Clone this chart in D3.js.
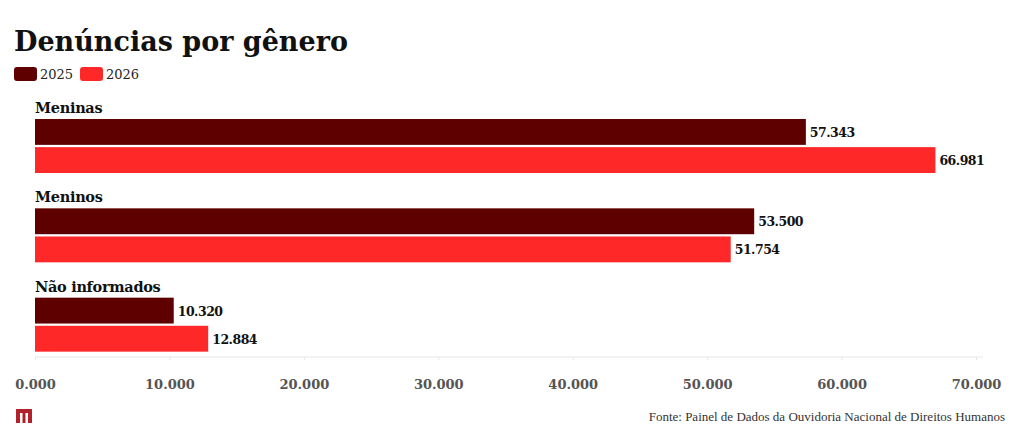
<!DOCTYPE html>
<html>
<head>
<meta charset="utf-8">
<script src="https://cdn.jsdelivr.net/npm/d3@7"></script>
<style>
  body { margin: 0; background: #fff; }
  text { font-family: "DejaVu Serif", serif; }
</style>
</head>
<body>
<div id="chart"></div>
<script>
// data
const categories = ["Meninas", "Meninos", "Não informados"];
const years = ["2025", "2026"];
const values2025 = [57343, 53500, 10320];
const values2026 = [66981, 51754, 12884];
const ticks = [0, 10000, 20000, 30000, 40000, 50000, 60000, 70000];
const colors = ["#5f0000", "#ff2828"];

const width = 1020, height = 444;
// brazilian style thousands: 12.884, 0.000 for zero tick
const fmtInt = d => d === 0 ? "0.000" : d3.format(",")(d).replace(/,/g, ".");

const svg = d3.select("#chart").append("svg")
  .attr("width", width).attr("height", height);

// title
svg.append("text").attr("x", 14).attr("y", 51)
  .attr("font-size", 27).attr("font-weight", 700).attr("fill", "#111")
  .text("Denúncias por gênero");

// legend
const legend = svg.append("g").attr("transform", "translate(14,67)");
const lx = [0, 66];
years.forEach((y, i) => {
  legend.append("rect").attr("x", lx[i]).attr("y", 0).attr("width", 23).attr("height", 14)
    .attr("rx", 3).attr("fill", colors[i]);
  legend.append("text").attr("x", lx[i] + 26).attr("y", 12)
    .attr("font-size", 13).attr("fill", "#222").text(y);
});

// scales
const x = d3.scaleLinear().domain([0, 70000]).range([35, 976]);
const groupY = d3.scaleBand().domain(categories).range([95, 363]);
const barY = d3.scaleBand().domain(years).range([24, 78]).paddingInner(0.08);

const groups = svg.selectAll("g.grp").data(categories).join("g")
  .attr("class", "grp")
  .attr("transform", d => `translate(0,${groupY(d)})`);

groups.append("text").attr("x", 35).attr("y", 18)
  .attr("font-size", 14.5).attr("font-weight", 700).attr("fill", "#111")
  .attr("letter-spacing", -0.3)
  .text(d => d);

const series = [values2025, values2026];
groups.each(function(c, ci) {
  const g = d3.select(this);
  years.forEach((yr, yi) => {
    const v = series[yi][ci];
    g.append("rect")
      .attr("x", x(0)).attr("y", barY(yr))
      .attr("width", x(v) - x(0)).attr("height", barY.bandwidth())
      .attr("fill", colors[yi]);
    g.append("text")
      .attr("x", x(v) + 4).attr("y", barY(yr) + barY.bandwidth() / 2 + 5)
      .attr("font-size", 12.5).attr("font-weight", 700).attr("fill", "#111")
      .attr("letter-spacing", -0.5)
      .text(fmtInt(v));
  });
});

// axis
const axis = svg.append("g").attr("transform", "translate(0,357)")
  .call(d3.axisBottom(x).tickValues(ticks).tickSize(3).tickFormat(fmtInt));
axis.select(".domain").attr("d", `M${x(0)},0H983`).attr("stroke", "#e6e6e6");
axis.selectAll(".tick line").attr("stroke", "#e6e6e6");
axis.selectAll(".tick text").attr("y", 32).attr("dy", 0)
  .attr("font-size", 13).attr("font-weight", 700).attr("fill", "#555")
  .style("font-family", "DejaVu Serif, serif");

// logo
svg.append("path")
  .attr("d", "M16,409h16v14h-4v-10h-2.5v10h-3v-10h-2.5v10h-4z")
  .attr("fill", "#b3222b");

// source
svg.append("text").attr("x", 1005).attr("y", 421).attr("text-anchor", "end")
  .attr("font-size", 13).attr("fill", "#333")
  .style("font-family", "'Liberation Serif', serif")
  .text("Fonte: Painel de Dados da Ouvidoria Nacional de Direitos Humanos");
</script>
</body>
</html>
